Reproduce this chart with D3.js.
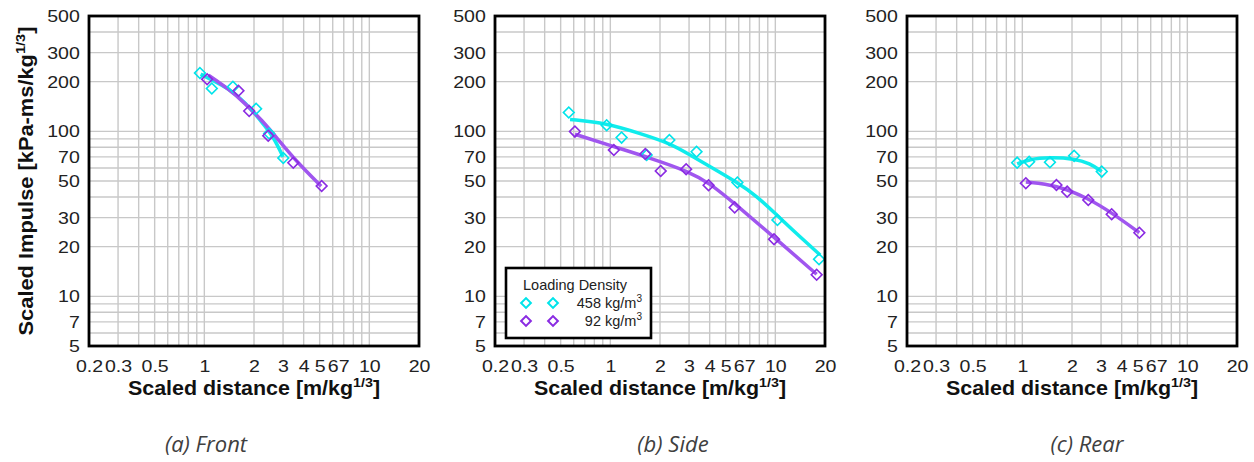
<!DOCTYPE html>
<html>
<head>
<meta charset="utf-8">
<script src="https://cdn.jsdelivr.net/npm/d3@7"></script>
<style>
  body { margin: 0; background: #fff; }
  svg { display: block; }
</style>
</head>
<body>
<script>
// Set up size
var width = 1254;
var height = 462;

// Axis ticks (shared by all three panels)
var xTickLabels = [0.2, 0.3, 0.5, 1, 2, 3, 4, 5, 6, 7, 10, 20];
var yTickLabels = [5, 7, 10, 20, 30, 50, 70, 100, 200, 300, 500];
var xGrid = [0.3, 0.4, 0.5, 0.6, 0.7, 0.8, 0.9, 1, 2, 3, 4, 5, 6, 7, 8, 9, 10];
var yGrid = [6, 7, 8, 9, 10, 20, 30, 40, 50, 60, 70, 80, 90, 100, 200, 300, 400];

// (a) Front - measured points [scaled distance, scaled impulse]
var frontHigh = [[0.94, 226], [1.11, 182], [1.49, 186], [2.06, 137], [2.47, 97], [3.01, 69]];
var frontLow = [[1.04, 207], [1.61, 176], [1.87, 133], [2.44, 94], [3.46, 64.5], [5.14, 46.6]];
// (a) Front - fitted curves
var frontHighFit = [[0.95, 222], [1.11, 205], [1.4, 182], [1.76, 151], [2.23, 114], [2.62, 93], [3.0, 70]];
var frontLowFit = [[1.06, 219], [1.4, 181], [1.76, 148], [2.23, 117], [2.81, 89], [3.55, 67], [5.1, 46.5]];

// (b) Side
var sideHigh = [[0.56, 130], [0.95, 109], [1.17, 91.6], [1.66, 71.9], [2.28, 88.6], [3.33, 75.3], [5.89, 48.9], [10.3, 29.0], [18.4, 16.8]];
var sideLow = [[0.61, 99.6], [1.05, 77.1], [1.63, 72.9], [2.02, 57.5], [2.88, 58.9], [3.94, 47.1], [5.67, 34.6], [9.82, 22.2], [17.8, 13.5]];
var sideHighFit = [[0.57, 118], [0.95, 112], [1.51, 97], [2.3, 84.6], [3.04, 71.9], [4.02, 61.2], [5.83, 49.3], [7.71, 40.6], [10.2, 31.1], [13.5, 23.9], [18.7, 17.8]];
var sideLowFit = [[0.61, 96], [1.04, 81], [1.74, 69], [3.0, 57], [4.02, 48.3], [5.7, 36.3], [9.95, 22.6], [17.8, 13.6]];

// (c) Rear
var rearHigh = [[0.93, 64.6], [1.10, 65.5], [1.47, 64.9], [2.06, 71], [3.03, 57]];
var rearLow = [[1.05, 48.4], [1.61, 47.3], [1.87, 43.1], [2.51, 38.4], [3.48, 31.4], [5.12, 24.3]];
var rearHighFit = [[0.93, 63.4], [1.10, 67.7], [1.47, 69.6], [2.06, 68.3], [2.57, 64], [3.03, 57]];
var rearLowFit = [[1.05, 49.3], [1.61, 47.3], [2.51, 39.3], [3.48, 32.1], [5.12, 24.3]];

var panelLabels = ["(a) Front", "(b) Side", "(c) Rear"];
var legendTitle = "Loading Density";
var seriesNames = ["458 kg/m", "92 kg/m"];

// Colours
var cyanLine = "#10ecec", cyanMark = "#00e4ea";
var purpleLine = "#a056ef", purpleMark = "#8a2be2";
var font = "Liberation Sans, Arial, sans-serif";

var svg = d3.select("body").append("svg")
  .attr("width", width)
  .attr("height", height);

var plotSize = 330;
var panels = [
  {left: 89, high: frontHigh, low: frontLow, highFit: frontHighFit, lowFit: frontLowFit, yTitle: true, caption: 206},
  {left: 495, high: sideHigh, low: sideLow, highFit: sideHighFit, lowFit: sideLowFit, legend: true, caption: 673},
  {left: 907, high: rearHigh, low: rearLow, highFit: rearHighFit, lowFit: rearLowFit, caption: 1087}
];

var diamond = d3.symbol().type(d3.symbolSquare).size(58);

panels.forEach(function (p, i) {
  var top = 16;
  var x = d3.scaleLog().domain([0.2, 20]).range([0, plotSize]);
  var y = d3.scaleLog().domain([5, 500]).range([plotSize, 0]);
  var g = svg.append("g").attr("transform", "translate(" + p.left + "," + top + ")");

  // grid
  g.selectAll(".vg").data(xGrid).enter().append("line")
    .attr("x1", function (d) { return x(d); })
    .attr("x2", function (d) { return x(d); })
    .attr("y1", 0).attr("y2", plotSize)
    .attr("stroke", "#c8c8c8").attr("stroke-width", 1.4);
  g.selectAll(".hg").data(yGrid).enter().append("line")
    .attr("y1", function (d) { return y(d); })
    .attr("y2", function (d) { return y(d); })
    .attr("x1", 0).attr("x2", plotSize)
    .attr("stroke", "#c8c8c8").attr("stroke-width", 1.4);

  // axes built with d3 then stripped down to labels only
  var xAxis = g.append("g")
    .attr("transform", "translate(0," + plotSize + ")")
    .call(d3.axisBottom(x).tickValues(xTickLabels).tickFormat(d3.format("~g")).tickSize(0).tickPadding(14));
  var yAxis = g.append("g")
    .call(d3.axisLeft(y).tickValues(yTickLabels).tickFormat(d3.format("~g")).tickSize(0).tickPadding(8));
  [xAxis, yAxis].forEach(function (a) {
    a.select(".domain").remove();
    a.selectAll("text")
      .attr("font-family", font)
      .attr("font-size", 17)
      .attr("fill", "#222")
      .attr("transform", "scale(1.15,1)");
  });

  // fitted curves (smoothed through the points)
  var line = d3.line()
    .x(function (d) { return x(d[0]); })
    .y(function (d) { return y(d[1]); })
    .curve(d3.curveBasis);
  g.append("path").datum(p.highFit).attr("d", line)
    .attr("fill", "none").attr("stroke", cyanLine).attr("stroke-width", 3.5);
  g.append("path").datum(p.lowFit).attr("d", line)
    .attr("fill", "none").attr("stroke", purpleLine).attr("stroke-width", 3.5);

  // markers
  g.selectAll(".mh").data(p.high).enter().append("path")
    .attr("d", diamond)
    .attr("transform", function (d) { return "translate(" + x(d[0]) + "," + y(d[1]) + ") rotate(45)"; })
    .attr("fill", "none").attr("stroke", cyanMark).attr("stroke-width", 1.6);
  g.selectAll(".ml").data(p.low).enter().append("path")
    .attr("d", diamond)
    .attr("transform", function (d) { return "translate(" + x(d[0]) + "," + y(d[1]) + ") rotate(45)"; })
    .attr("fill", "none").attr("stroke", purpleMark).attr("stroke-width", 1.6);

  // frame
  g.append("rect")
    .attr("width", plotSize).attr("height", plotSize)
    .attr("fill", "none").attr("stroke", "#000").attr("stroke-width", 2.8);

  // x title
  var xt = g.append("text")
    .attr("transform", "translate(" + plotSize / 2 + "," + (plotSize + 49) + ") scale(1.1,1)")
    .attr("text-anchor", "middle")
    .attr("font-family", font)
    .attr("font-weight", "bold").attr("font-size", 19.5).attr("fill", "#111");
  xt.append("tspan").text("Scaled distance [m/kg");
  xt.append("tspan").attr("dy", -8).attr("font-size", 13).text("1/3");
  xt.append("tspan").attr("dy", 8).text("]");

  if (p.yTitle) {
    var yt = g.append("text")
      .attr("transform", "translate(-56," + plotSize / 2 + ") rotate(-90) scale(1.12,1)")
      .attr("text-anchor", "middle")
      .attr("font-family", font)
      .attr("font-weight", "bold").attr("font-size", 19.5).attr("fill", "#111");
    yt.append("tspan").text("Scaled Impulse [kPa-ms/kg");
    yt.append("tspan").attr("dy", -8).attr("font-size", 13).text("1/3");
    yt.append("tspan").attr("dy", 8).text("]");
  }

  if (p.legend) {
    var lg = g.append("g").attr("transform", "translate(11,252)");
    lg.append("rect").attr("width", 145).attr("height", 70)
      .attr("fill", "#fff").attr("stroke", "#000").attr("stroke-width", 2.6);
    lg.append("text").attr("x", 17).attr("y", 22).text(legendTitle)
      .attr("font-family", font).attr("font-size", 14.5).attr("fill", "#222");
    [cyanMark, purpleMark].forEach(function (c, k) {
      var ly = 35 + k * 18;
      [20, 47].forEach(function (lx) {
        lg.append("path").attr("d", d3.symbol().type(d3.symbolSquare).size(48))
          .attr("transform", "translate(" + lx + "," + ly + ") rotate(45)")
          .attr("fill", "none").attr("stroke", c).attr("stroke-width", 2);
      });
      var t = lg.append("text").attr("x", 136).attr("y", ly + 5)
        .attr("text-anchor", "end")
        .attr("font-family", font).attr("font-size", 14.5).attr("fill", "#222");
      t.append("tspan").text(seriesNames[k]);
      t.append("tspan").attr("dy", -6).attr("font-size", 10).text("3");
    });
  }

  // caption
  svg.append("text")
    .attr("x", p.caption).attr("y", 452)
    .attr("text-anchor", "middle")
    .attr("font-family", "Open Sans, Noto Sans, sans-serif")
    .attr("font-style", "italic").attr("font-size", 22).attr("fill", "#404040")
    .text(panelLabels[i]);
});
</script>
</body>
</html>
